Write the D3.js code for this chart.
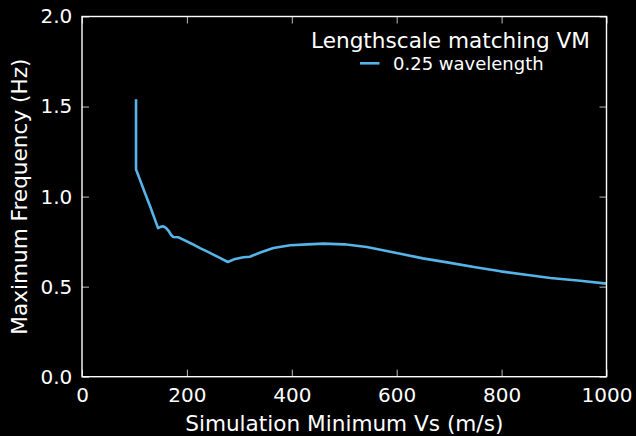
<!DOCTYPE html>
<html>
<head>
<meta charset="utf-8">
<script src="https://cdn.jsdelivr.net/npm/d3@7"></script>
<style>
  html, body { margin: 0; padding: 0; background: #000; }
  svg { display: block; }
  text { font-family: "DejaVu Sans", sans-serif; fill: #fff; }
</style>
</head>
<body>
<svg id="chart" width="636" height="436"></svg>
<script>
// Data
const vsMin = [103, 103, 111, 120, 130, 140, 145, 150, 155, 160, 165, 170, 174, 184, 195, 210, 225, 240, 260, 278, 292, 308, 320, 340, 365, 397, 430, 460, 500, 543, 607, 650, 702, 750, 798, 850, 893, 950, 1000];
const fMax  = [1.54, 1.15, 1.09, 1.02, 0.945, 0.865, 0.825, 0.832, 0.835, 0.826, 0.81, 0.787, 0.776, 0.774, 0.758, 0.737, 0.714, 0.693, 0.664, 0.637, 0.654, 0.663, 0.666, 0.69, 0.715, 0.73, 0.735, 0.739, 0.735, 0.72, 0.683, 0.657, 0.632, 0.608, 0.585, 0.565, 0.548, 0.533, 0.517];
const xTicks = [0, 200, 400, 600, 800, 1000];
const yTicks = [0.0, 0.5, 1.0, 1.5, 2.0];
const seriesName = "0.25 wavelength";
const legendTitle = "Lengthscale matching VM";
const xLabel = "Simulation Minimum Vs (m/s)";
const yLabel = "Maximum Frequency (Hz)";

(function () {
const svg = d3.select("#chart");
const W = 636, H = 436;
const pLeft = 82, pRight = 606.5, pTop = 16.5, pBottom = 376.7;
const lineColor = "#56B4E9";

svg.append("rect").attr("width", W).attr("height", H).attr("fill", "#000");

const x = d3.scaleLinear().domain([0, 1000]).range([pLeft, pRight]);
const y = d3.scaleLinear().domain([0, 2]).range([pBottom, pTop]);

const tickFmt = d3.format(".1f");

function styleAxis(g) {
  g.select(".domain").remove();
  g.selectAll(".tick line").attr("stroke", "#bbbbbb").attr("stroke-width", 1);
  g.selectAll(".tick text").attr("fill", "#fff").style("font-family", "DejaVu Sans").style("font-size", "20px");
}

svg.append("g").attr("transform", `translate(0,${pBottom})`)
  .call(d3.axisBottom(x).tickValues(xTicks).tickFormat(d3.format("d")).tickSize(-7).tickPadding(11.4))
  .call(styleAxis);
svg.append("g").attr("transform", `translate(0,${pTop})`)
  .call(d3.axisTop(x).tickValues(xTicks).tickFormat("").tickSize(-7))
  .call(styleAxis);
svg.append("g").attr("transform", `translate(${pLeft},0)`)
  .call(d3.axisLeft(y).tickValues(yTicks).tickFormat(tickFmt).tickSize(-7).tickPadding(9.7))
  .call(styleAxis);
svg.append("g").attr("transform", `translate(${pRight},0)`)
  .call(d3.axisRight(y).tickValues(yTicks).tickFormat("").tickSize(-7))
  .call(styleAxis);

const data = vsMin.map((v, i) => ({ v, f: fMax[i] }));
svg.append("path")
  .datum(data)
  .attr("fill", "none")
  .attr("stroke", lineColor)
  .attr("stroke-width", 2.6)
  .attr("stroke-linejoin", "round")
  .attr("d", d3.line().x(d => x(d.v)).y(d => y(d.f)));

svg.append("rect")
  .attr("x", pLeft).attr("y", pTop)
  .attr("width", pRight - pLeft).attr("height", pBottom - pTop)
  .attr("fill", "none").attr("stroke", "#fff").attr("stroke-width", 1.4);

svg.append("text")
  .attr("x", (pLeft + pRight) / 2).attr("y", 431)
  .attr("text-anchor", "middle")
  .style("font-size", "21.6px")
  .text(xLabel);

svg.append("text")
  .attr("transform", `translate(27,${(pTop + pBottom) / 2}) rotate(-90)`)
  .attr("text-anchor", "middle")
  .style("font-size", "21.6px")
  .text(yLabel);

svg.append("text")
  .attr("x", 450.5).attr("y", 48.3)
  .attr("text-anchor", "middle")
  .style("font-size", "21.6px")
  .text(legendTitle);

svg.append("line")
  .attr("x1", 360).attr("x2", 379.5)
  .attr("y1", 63.3).attr("y2", 63.3)
  .attr("stroke", lineColor).attr("stroke-width", 2.6);

svg.append("text")
  .attr("x", 393).attr("y", 69.5)
  .style("font-size", "18px")
  .text(seriesName);
})();
</script>
</body>
</html>
